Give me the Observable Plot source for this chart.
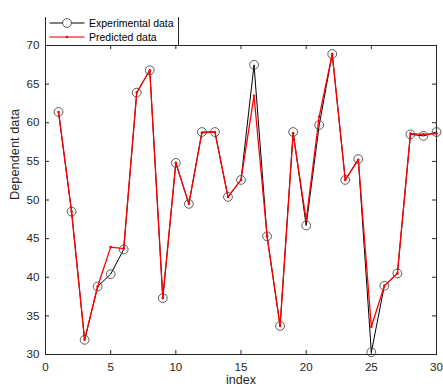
<!DOCTYPE html>
<html>
<head>
<meta charset="utf-8">
<script src="https://cdn.jsdelivr.net/npm/d3@7"></script>
<script src="https://cdn.jsdelivr.net/npm/@observablehq/plot@0.6"></script>
<style>
  body { margin: 0; background: #fff; }
  #wrap { position: relative; width: 443px; height: 387px; overflow: hidden; font-family: "Liberation Sans", Arial, sans-serif; }
  #wrap > svg { position: absolute; left: 0; top: 0; }
  #legend {
    position: absolute; left: 45px; top: 17px; width: 134px; height: 28.5px;
    box-sizing: border-box; background: #fff;
    border-left: 1px solid #262626; border-right: 1px solid #262626; border-bottom: 1px solid #262626;
    font-size: 10.5px; color: #000;
  }
  #legend .row { position: absolute; left: 0; height: 14px; display: flex; align-items: center; }
  #legend .row svg { display: block; }
  #legend .row span { margin-left: 3px; white-space: nowrap; }
</style>
</head>
<body>
<div id="wrap"></div>
<script>
// Sample index and the two series (experimental vs. model prediction)
const sampleIndex = [1, 2, 3, 4, 5, 6, 7, 8, 9, 10, 11, 12, 13, 14, 15,
                     16, 17, 18, 19, 20, 21, 22, 23, 24, 25, 26, 27, 28, 29, 30];
const experimental = [61.4, 48.5, 31.9, 38.8, 40.4, 43.6, 63.9, 66.8, 37.3, 54.8,
                      49.5, 58.8, 58.8, 50.4, 52.6, 67.5, 45.3, 33.7, 58.8, 46.7,
                      59.7, 68.9, 52.6, 55.3, 30.3, 38.9, 40.5, 58.5, 58.3, 58.8];
const predicted = [61.4, 48.5, 31.9, 38.8, 43.9, 43.7, 63.9, 66.8, 37.3, 54.8,
                   49.5, 58.7, 58.8, 50.4, 52.6, 63.5, 45.3, 33.7, 58.6, 47.4,
                   60.8, 68.9, 52.6, 55.2, 33.6, 38.9, 40.5, 58.6, 58.5, 58.6];
const xTicks = [0, 5, 10, 15, 20, 25, 30];
const yTicks = [30, 35, 40, 45, 50, 55, 60, 65, 70];
const seriesNames = ["Experimental data", "Predicted data"];

const expRows = sampleIndex.map((x, i) => ({x, y: experimental[i]}));
const predRows = sampleIndex.map((x, i) => ({x, y: predicted[i]}));

const W = 443, H = 387;
const mL = 45, mR = 7, mT = 45, mB = 33;
const frameW = W - mL - mR, frameH = H - mT - mB;
const tickLen = 4;
const axisColor = "#262626";

const chart = Plot.plot({
  width: W,
  height: H,
  marginLeft: mL,
  marginRight: mR,
  marginTop: mT,
  marginBottom: mB,
  style: {fontFamily: "'Liberation Sans', Arial, sans-serif", fontSize: "11.6px", color: axisColor, background: "#fff", overflow: "visible"},
  x: {domain: [0, 30]},
  y: {domain: [30, 70]},
  marks: [
    Plot.frame({stroke: axisColor, strokeWidth: 1}),
    // inward ticks on all four sides (box on)
    Plot.tickX(xTicks, {x: d => d, insetTop: frameH - tickLen, stroke: axisColor}),
    Plot.tickX(xTicks, {x: d => d, insetBottom: frameH - tickLen, stroke: axisColor}),
    Plot.tickY(yTicks, {y: d => d, insetRight: frameW - tickLen, stroke: axisColor}),
    Plot.tickY(yTicks, {y: d => d, insetLeft: frameW - tickLen, stroke: axisColor}),
    Plot.axisX({ticks: xTicks, tickSize: 0, tickPadding: 8, label: null, fill: axisColor}),
    Plot.axisY({ticks: yTicks, tickSize: 0, tickPadding: 6, label: null, fill: axisColor}),
    // experimental: black line with open circles
    Plot.line(expRows, {x: "x", y: "y", stroke: "#000", strokeWidth: 1}),
    Plot.dot(expRows, {x: "x", y: "y", r: 4.4, stroke: "#333", strokeWidth: 0.8, fill: "none"}),
    // predicted: red line with small dots
    Plot.line(predRows, {x: "x", y: "y", stroke: "#ff0000", strokeWidth: 1.3}),
    Plot.dot(predRows, {x: "x", y: "y", r: 1.3, fill: "#ff0000", stroke: "none"}),
    // axis titles
    Plot.text(["Dependent data"], {text: d => d, frameAnchor: "left", dx: -30.5, rotate: -90, fontSize: 12.8, fill: axisColor}),
    Plot.text(["index"], {text: d => d, frameAnchor: "bottom", dy: 29, fontSize: 12.5, fill: axisColor})
  ]
});

const wrap = document.getElementById("wrap");
wrap.appendChild(chart);

// legend box overlapping the top-left corner of the axes
const legend = document.createElement("div");
legend.id = "legend";
const entries = [
  {name: seriesNames[0], top: -1, line: "#000", width: 1, marker: "circle"},
  {name: seriesNames[1], top: 13, line: "#ff4a4a", width: 1.3, marker: "dot"}
];
for (const e of entries) {
  const row = document.createElement("div");
  row.className = "row";
  row.style.top = e.top + "px";
  const sw = 40;
  const mk = e.marker === "circle"
    ? `<circle cx="${sw / 2 + 1}" cy="7" r="4.4" fill="#fff" stroke="#333" stroke-width="0.8"/>`
    : `<circle cx="${sw / 2 + 1}" cy="7" r="1.3" fill="#ff0000"/>`;
  row.innerHTML = `<svg width="${sw}" height="14"><line x1="3.5" x2="38.5" y1="7" y2="7" stroke="${e.line}" stroke-width="${e.width}"/>${mk}</svg><span>${e.name}</span>`;
  legend.appendChild(row);
}
wrap.appendChild(legend);
</script>
</body>
</html>
